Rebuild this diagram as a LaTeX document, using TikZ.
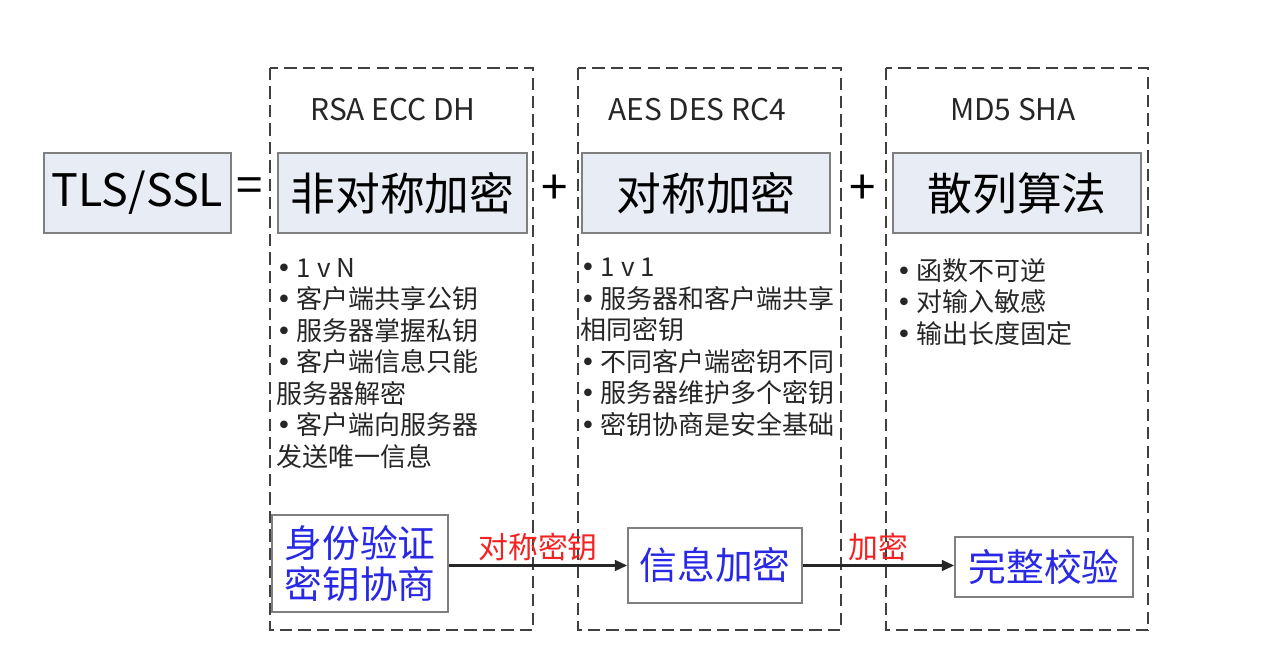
\documentclass[tikz,border=0pt]{standalone}
\usepackage{fontspec}
\newfontfamily\cjk{Noto Sans CJK SC}
\newfontfamily\dotfont{DejaVu Sans}
\usetikzlibrary{arrows.meta}
\definecolor{boxfill}{HTML}{E8ECF5}
\definecolor{boxline}{HTML}{7F7F7F}
\definecolor{textblue}{HTML}{2828E6}
\definecolor{labelred}{HTML}{F52222}
\definecolor{dashgray}{HTML}{404040}
\newcommand{\bul}{{\dotfont •}\hspace{3pt}}

\begin{document}
\begin{tikzpicture}[x=0.02cm,y=-0.02cm,
    titlebox/.style={draw=boxline, fill=boxfill, line width=0.9pt, inner sep=0pt,
      minimum height=1.6cm, font={\cjk\fontsize{25.5}{30}\selectfont}},
    group/.style={draw=dashgray, line width=1.3pt, dash pattern=on 7pt off 3.5pt},
    algo/.style={font={\cjk\fontsize{17}{20}\selectfont}, text=black!85},
    notes/.style={anchor=north west, inner sep=0pt, align=left, text=black!85,
      font={\cjk\fontsize{14.8}{17.9}\selectfont}},
    stepbox/.style={draw=boxline, fill=white, line width=0.9pt, inner sep=0pt,
      text=textblue, align=center, font={\cjk\fontsize{21.5}{23.2}\selectfont}},
    flow/.style={draw=black!85, line width=1.4pt, -{Triangle[length=7pt,width=6pt]}},
    flowlabel/.style={text=labelred, inner sep=2pt, font={\cjk\fontsize{17}{20}\selectfont}}]
  \useasboundingbox (0,0) rectangle (1276,670);

  % dashed groups
  \draw[group] (270,68) rectangle (533,630);
  \draw[group] (578,68) rectangle (841,630);
  \draw[group] (886,68) rectangle (1148,630);

  % algorithm names
  \node[algo] (asymalgo) at (393,110) {RSA ECC DH};
  \node[algo] (symalgo) at (697,110) {AES DES RC4};
  \node[algo] (hashalgo) at (1013,110) {MD5 SHA};

  % top row
  \node[titlebox, minimum width=3.74cm] (tls) at (137.5,193) {TLS/SSL};
  \node[font={\cjk\fontsize{27}{30}\selectfont}] (eq) at (250,190) {=};
  \node[titlebox, minimum width=4.98cm] (asym) at (402.5,193) {非对称加密};
  \node[font={\cjk\fontsize{27}{30}\selectfont}] (plusa) at (555,190) {+};
  \node[titlebox, minimum width=4.96cm] (sym) at (706,193) {对称加密};
  \node[font={\cjk\fontsize{27}{30}\selectfont}] (plusb) at (863,190) {+};
  \node[titlebox, minimum width=4.96cm] (hash) at (1017,193) {散列算法};

  % notes
  \node[notes] (asymnotes) at (276,258) {\bul 1 v N\\\bul 客户端共享公钥\\\bul 服务器掌握私钥\\\bul 客户端信息只能\\服务器解密\\\bul 客户端向服务器\\发送唯一信息};
  \node[notes] (symnotes) at (580,258) {\bul 1 v 1\\\bul 服务器和客户端共享\\相同密钥\\\bul 不同客户端密钥不同\\\bul 服务器维护多个密钥\\\bul 密钥协商是安全基础};
  \node[notes] (hashnotes) at (896,258) {\bul 函数不可逆\\\bul 对输入敏感\\\bul 输出长度固定};

  % bottom flow
  \node[stepbox, minimum width=3.52cm, minimum height=1.94cm] (auth) at (360,563.5) {身份验证\\密钥协商};
  \node[stepbox, minimum width=3.48cm, minimum height=1.5cm] (enc) at (715,565.5) {信息加密};
  \node[stepbox, minimum width=3.56cm, minimum height=1.2cm] (check) at (1044,567) {完整校验};

  \draw[flow] (auth.east |- enc) -- node[flowlabel, above] {对称密钥} (enc);
  \draw[flow] (enc) -- node[flowlabel, above] {加密} (check.west |- enc);
\end{tikzpicture}
\end{document}
